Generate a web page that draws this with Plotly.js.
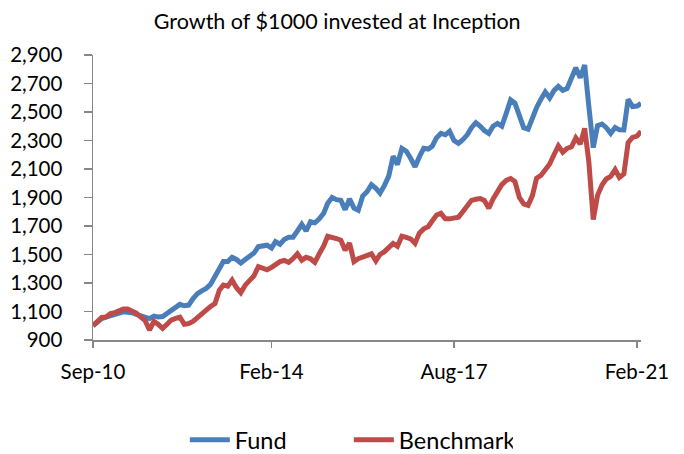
<!DOCTYPE html>
<html>
<head>
<meta charset="utf-8">
<script src="https://cdn.plot.ly/plotly-3.0.1.min.js"></script>
<style>html,body{margin:0;padding:0;background:#fff;}#chart{width:684px;height:454px;}</style>
</head>
<body>
<div id="chart"></div>
<script>
// Monthly observations, Sep-2010 .. Mar-2021
const startYear = 2010, startMonth = 9, nMonths = 127;
const fund = [
1000,1030,1050,1060,1070,1078,1085,1098,1095,1092,
1080,1070,1055,1050,1068,1062,1065,1085,1105,1130,
1150,1140,1145,1190,1225,1245,1262,1290,1340,1400,
1450,1450,1480,1465,1440,1465,1490,1510,1555,1560,
1565,1545,1590,1572,1605,1621,1621,1665,1712,1665,
1730,1722,1750,1790,1860,1900,1885,1880,1815,1890,
1825,1810,1910,1940,1990,1965,1930,1985,2050,2190,
2130,2245,2225,2175,2116,2185,2245,2240,2260,2320,
2350,2340,2365,2300,2280,2305,2340,2390,2425,2400,
2370,2350,2400,2420,2400,2490,2585,2562,2460,2390,
2380,2470,2530,2590,2640,2598,2650,2680,2652,2665,
2740,2810,2740,2830,2540,2250,2405,2416,2390,2350,
2392,2375,2374,2589,2538,2542,2560
];
const benchmark = [
1000,1035,1058,1062,1085,1092,1105,1117,1117,1105,
1088,1060,1036,970,1030,1010,982,1010,1040,1052,
1060,1010,1015,1030,1060,1085,1110,1135,1155,1250,
1285,1278,1320,1267,1232,1285,1322,1350,1415,1405,
1393,1410,1430,1450,1458,1445,1470,1505,1460,1480,
1470,1445,1505,1560,1628,1622,1612,1600,1530,1580,
1450,1470,1485,1498,1505,1455,1500,1520,1545,1578,
1558,1628,1620,1610,1578,1650,1680,1695,1735,1777,
1789,1750,1750,1755,1762,1800,1838,1880,1888,1892,
1880,1824,1890,1940,1990,2020,2033,2012,1900,1855,
1845,1915,2035,2055,2090,2135,2200,2262,2218,2245,
2256,2318,2275,2385,2150,1745,1915,1988,2030,2048,
2095,2040,2065,2285,2322,2331,2365
];
const seriesNames = ['Fund', 'Benchmark'];
const xTickVals = ['2010-09-01', '2014-02-01', '2017-08-01', '2021-02-01'];
const xTickText = ['Sep-10', 'Feb-14', 'Aug-17', 'Feb-21'];
const titleText = 'Growth of $1000 invested at Inception';

const dates = [];
for (let i = 0; i < nMonths; i++) {
  const m = startMonth - 1 + i;
  const y = startYear + Math.floor(m / 12);
  const mm = (m % 12) + 1;
  dates.push(y + '-' + String(mm).padStart(2, '0') + '-01');
}

const font = 'Lato, "Liberation Sans", sans-serif';
const axisColor = '#878787';

const traces = [
  {x: dates, y: fund, name: seriesNames[0], type: 'scatter', mode: 'lines',
   line: {color: '#4A7EBB', width: 5}},
  {x: dates, y: benchmark, name: seriesNames[1], type: 'scatter', mode: 'lines',
   line: {color: '#BE4B48', width: 5}}
];

const layout = {
  width: 684, height: 454,
  margin: {l: 93, r: 43, t: 55, b: 114},
  paper_bgcolor: '#fff', plot_bgcolor: '#fff',
  font: {family: font, color: '#000', size: 19},
  title: {text: titleText, xref: 'container', x: 0.493, xanchor: 'center',
          yref: 'container', y: 0.952, yanchor: 'middle',
          font: {family: font, size: 21.5, color: '#000'}},
  xaxis: {
    type: 'date', range: ['2010-09-01', '2021-03-01'],
    tickmode: 'array', tickvals: xTickVals, ticktext: xTickText,
    showgrid: false, zeroline: false, showline: true,
    linecolor: axisColor, linewidth: 1.5,
    ticks: 'outside', ticklen: 6, tickwidth: 1.5, tickcolor: axisColor,
    ticklabelstandoff: 7,
    tickfont: {family: font, size: 20.5, color: '#000'}
  },
  yaxis: {
    range: [900, 2900], dtick: 200, tick0: 900, tickformat: ',d',
    showgrid: false, zeroline: false, showline: true,
    linecolor: axisColor, linewidth: 1.5,
    ticks: 'outside', ticklen: 8, tickwidth: 1.5, tickcolor: axisColor,
    ticklabelstandoff: 17,
    tickfont: {family: font, size: 20.5, color: '#000'}
  },
  showlegend: true,
  legend: {orientation: 'h', xref: 'container', x: 0.51, xanchor: 'center',
           yref: 'container', y: 0.031, yanchor: 'middle',
           entrywidth: 109, entrywidthmode: 'pixels',
           font: {family: font, size: 23.5, color: '#000'}, itemwidth: 40}
};

Plotly.newPlot('chart', traces, layout, {displayModeBar: false, staticPlot: true});
</script>
</body>
</html>
